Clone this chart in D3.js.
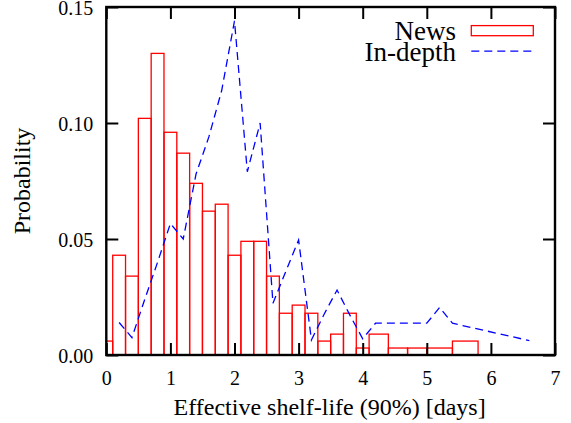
<!DOCTYPE html>
<html>
<head>
<meta charset="utf-8">
<script src="https://cdn.jsdelivr.net/npm/d3@7/dist/d3.min.js"></script>
<style>
  html, body { margin: 0; padding: 0; background: #fff; }
  svg { display: block; }
</style>
</head>
<body>
<svg id="chart" width="571" height="423"></svg>
<script>
// ---- data ----
const newsX = [0, 0.2, 0.4, 0.6, 0.8, 1.0, 1.2, 1.4, 1.6, 1.8, 2.0, 2.2, 2.4, 2.6, 2.8,
               3.0, 3.2, 3.4, 3.6, 3.8, 4.0, 4.2, 4.6, 4.8, 5.2, 5.6];
const newsP = [0.006, 0.043, 0.034, 0.102, 0.130, 0.096, 0.087, 0.074, 0.062, 0.065, 0.043,
               0.049, 0.049, 0.034, 0.018, 0.0215, 0.018, 0.006, 0.009, 0.018, 0.003, 0.009,
               0.003, 0.003, 0.003, 0.006];
const depthX = [0.2, 0.4, 0.6, 0.8, 1.0, 1.2, 1.4, 1.6, 1.8, 2.0, 2.2, 2.4, 2.6, 2.8, 3.0,
                3.2, 3.4, 3.6, 3.8, 4.0, 4.2, 4.4, 4.6, 4.8, 5.0, 5.2, 5.4, 6.6];
const depthP = [0.014, 0.0075, 0.024, 0.040, 0.0567, 0.050, 0.078, 0.094, 0.114, 0.144,
                0.079, 0.100, 0.0223, 0.036, 0.0496, 0.0065, 0.0177, 0.028, 0.0172, 0.007,
                0.0137, 0.0137, 0.0137, 0.0137, 0.0137, 0.0205, 0.0137, 0.0062];
const xTicks = [0, 1, 2, 3, 4, 5, 6, 7];
const yTicks = [0, 0.05, 0.10, 0.15];
const seriesNames = ["News", "In-depth"];
const xLabel = "Effective shelf-life (90%) [days]";
const yLabel = "Probability";

// ---- layout ----
const L = 106.3, R = 555, T = 7, B = 355;
const FONT = "'Liberation Serif', 'Times New Roman', serif";
const svg = d3.select("#chart");

const x = d3.scaleLinear().domain([0, 7]).range([L, R]);
const y = d3.scaleLinear().domain([0, 0.15]).range([B, T]);

svg.append("defs").append("clipPath").attr("id", "clip")
  .append("rect").attr("x", L).attr("y", T).attr("width", R - L).attr("height", B - T);

// gnuplot-style auto box widths: halfway to neighbouring points
const boxes = newsX.map((cx, i) => {
  const left = i > 0 ? (newsX[i - 1] + cx) / 2 : cx - (newsX[1] - newsX[0]) / 2;
  const right = i < newsX.length - 1 ? (cx + newsX[i + 1]) / 2 : cx + (cx - newsX[i - 1]) / 2;
  return { x0: left, x1: right, p: newsP[i] };
});

const plot = svg.append("g").attr("clip-path", "url(#clip)");

plot.selectAll("rect.news").data(boxes).enter().append("rect")
  .attr("class", "news")
  .attr("x", d => x(d.x0))
  .attr("width", d => x(d.x1) - x(d.x0))
  .attr("y", d => y(d.p))
  .attr("height", d => y(0) - y(d.p))
  .attr("fill", "none")
  .attr("stroke", "#ff0000")
  .attr("stroke-width", 1.3);

const line = d3.line().x(d => x(d[0])).y(d => y(d[1]));
plot.append("path")
  .datum(depthX.map((v, i) => [v, depthP[i]]))
  .attr("d", line)
  .attr("fill", "none")
  .attr("stroke", "#0000ff")
  .attr("stroke-width", 1.3)
  .attr("stroke-dasharray", "8,5");

// ---- axes (gnuplot style: inward ticks, mirrored) ----
const tickLen = 12;
const axes = svg.append("g");
const xAxisB = d3.axisBottom(x).tickValues(xTicks).tickSize(-tickLen).tickPadding(16)
  .tickFormat(d3.format("d"));
const xAxisT = d3.axisTop(x).tickValues(xTicks).tickSize(-tickLen).tickFormat("");
const yAxisL = d3.axisLeft(y).tickValues(yTicks).tickSize(-tickLen).tickPadding(13)
  .tickFormat(d3.format(".2f"));
const yAxisR = d3.axisRight(y).tickValues(yTicks).tickSize(-tickLen).tickFormat("");

function styleAxis(g) {
  g.select(".domain").remove();
  g.selectAll(".tick line").attr("stroke", "#000").attr("stroke-width", 2);
  g.selectAll(".tick text").attr("fill", "#000")
    .style("font-family", FONT).style("font-size", "20px");
}
axes.append("g").attr("transform", `translate(0,${B})`).call(xAxisB).call(styleAxis);
axes.append("g").attr("transform", `translate(0,${T})`).call(xAxisT).call(styleAxis);
const yl = axes.append("g").attr("transform", `translate(${L},0)`).call(yAxisL).call(styleAxis);
yl.selectAll(".tick text").attr("dy", "0.36em");
axes.append("g").attr("transform", `translate(${R},0)`).call(yAxisR).call(styleAxis);

axes.append("rect")
  .attr("x", L).attr("y", T).attr("width", R - L).attr("height", B - T)
  .attr("fill", "none").attr("stroke", "#000").attr("stroke-width", 2.4);

// ---- axis labels ----
svg.append("text")
  .attr("x", (L + R) / 2 - 1).attr("y", 415)
  .attr("text-anchor", "middle")
  .style("font-family", FONT).style("font-size", "24px")
  .text(xLabel);

svg.append("text")
  .attr("transform", `translate(30,${(T + B) / 2}) rotate(-90)`)
  .attr("text-anchor", "middle")
  .style("font-family", FONT).style("font-size", "24px")
  .text(yLabel);

// ---- legend ----
const leg = svg.append("g");
leg.append("text").attr("x", 456).attr("y", 40).attr("text-anchor", "end")
  .style("font-family", FONT).style("font-size", "27px").text(seriesNames[0]);
leg.append("rect").attr("x", 471.3).attr("y", 25.6).attr("width", 62).attr("height", 10.1)
  .attr("fill", "none").attr("stroke", "#ff0000").attr("stroke-width", 1.3);
leg.append("text").attr("x", 456).attr("y", 61).attr("text-anchor", "end")
  .style("font-family", FONT).style("font-size", "27px").text(seriesNames[1]);
leg.append("line").attr("x1", 471.3).attr("x2", 533.3).attr("y1", 51.2).attr("y2", 51.2)
  .attr("stroke", "#0000ff").attr("stroke-width", 1.3).attr("stroke-dasharray", "8,5");
</script>
</body>
</html>
